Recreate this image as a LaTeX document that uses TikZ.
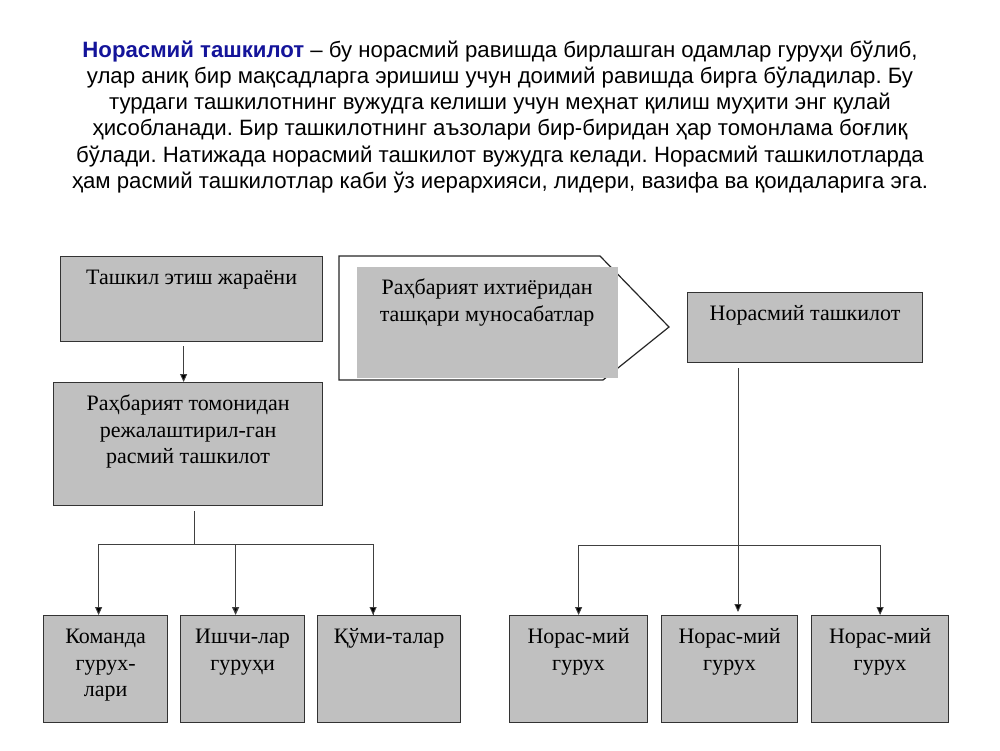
\documentclass[tikz,border=0pt]{standalone}
\usepackage{fontspec}
\setmainfont{Liberation Serif}
\newfontfamily\headfont{Liberation Sans}
\usetikzlibrary{positioning,arrows.meta}
\definecolor{boxgray}{HTML}{C0C0C0}
\definecolor{headblue}{HTML}{14149A}
\frenchspacing
\newcommand{\boxtext}[3]{\parbox[c][#2][t]{#1}{\centering\rule{0pt}{28pt}#3}}

\begin{document}
\begin{tikzpicture}[x=1pt, y=-1pt, font=\fontsize{22}{26.5}\selectfont,
	b/.style={draw=black!80, fill=boxgray, line width=1.2pt, inner sep=0pt, anchor=north west},
	l/.style={draw=black!75, line width=0.9pt},
	a/.style={l, -{Triangle[length=8pt, width=7pt, fill=black]}}]
	\useasboundingbox (0,0) rectangle (1000,750);

	\node[anchor=north, inner sep=0pt, font=\headfont\fontsize{22.2}{26.2}\selectfont] (T) at (500,29) {\parbox[t]{980pt}{\centering\rule{0pt}{28pt}%
		\textcolor{headblue}{\textbf{Норасмий ташкилот}} – бу норасмий равишда бирлашган одамлар гуруҳи бўлиб,\\
		улар аниқ бир мақсадларга эришиш учун доимий равишда бирга бўладилар. Бу\\
		турдаги ташкилотнинг вужудга келиши учун меҳнат қилиш муҳити энг қулай\\
		ҳисобланади. Бир ташкилотнинг аъзолари бир-биридан ҳар томонлама боғлиқ\\
		бўлади. Натижада норасмий ташкилот вужудга келади. Норасмий ташкилотларда\\
		ҳам расмий ташкилотлар каби ўз иерархияси, лидери, вазифа ва қоидаларига эга.}};

	\node[b] (P) at (60,256) {\boxtext{262pt}{85pt}{Ташкил этиш жараёни}};
	\node[b] (F) at (53,382) {\boxtext{269pt}{123pt}{Раҳбарият томонидан\\ режалаштирил-ган\\ расмий ташкилот}};
	\draw[draw=black!85, line width=1.2pt, fill=white] (339,256) -- (600,256) -- (669,327) -- (603,380) -- (339,380) -- cycle;
	\node[b, draw=none] (R) at (356,266) {\boxtext{261pt}{111pt}{Раҳбарият ихтиёридан\\ ташқари муносабатлар}};
	\node[b] (N) at (687,292) {\boxtext{235pt}{70pt}{Норасмий ташкилот}};

	\node[b] (K) at (43,615) {\boxtext{124pt}{107pt}{Команда\\ гурух-\\ лари}};
	\node[b] (I) at (180,615) {\boxtext{124pt}{107pt}{Ишчи-лар\\ гуруҳи}};
	\node[b] (Q) at (317,615) {\boxtext{143pt}{107pt}{Қўми-талар}};
	\node[b] (G1) at (509,615) {\boxtext{138pt}{107pt}{Норас-мий\\ гурух}};
	\node[b] (G2) at (661,615) {\boxtext{136pt}{107pt}{Норас-мий\\ гурух}};
	\node[b] (G3) at (811,615) {\boxtext{137pt}{107pt}{Норас-мий\\ гурух}};

	\coordinate (J1) at (194,544);
	\coordinate (J2) at (738,545);

	\draw[a, shorten <=4pt] ([xshift=-8pt]P.south) -- ([xshift=-8pt]P.south |- F.north);
	\draw[l, shorten <=5pt] (J1 |- F.south) -- (J1);
	\draw[a] (J1) -| ([xshift=-7pt]K.north);
	\draw[l] (J1) -| ([xshift=-16pt]Q.north);
	\draw[a, line width=1.3pt] ([xshift=-7pt]I.north |- J1) -- ([xshift=-7pt]I.north);
	\draw[a] ([xshift=-16pt]Q.north |- J1) -- ([xshift=-16pt]Q.north);
	\draw[a, shorten <=5pt, shorten >=3pt] (J2 |- N.south) -- (J2 |- G2.north);
	\draw[a] (J2) -| (G1.north);
	\draw[a] (J2) -| (G3.north);
\end{tikzpicture}
\end{document}
